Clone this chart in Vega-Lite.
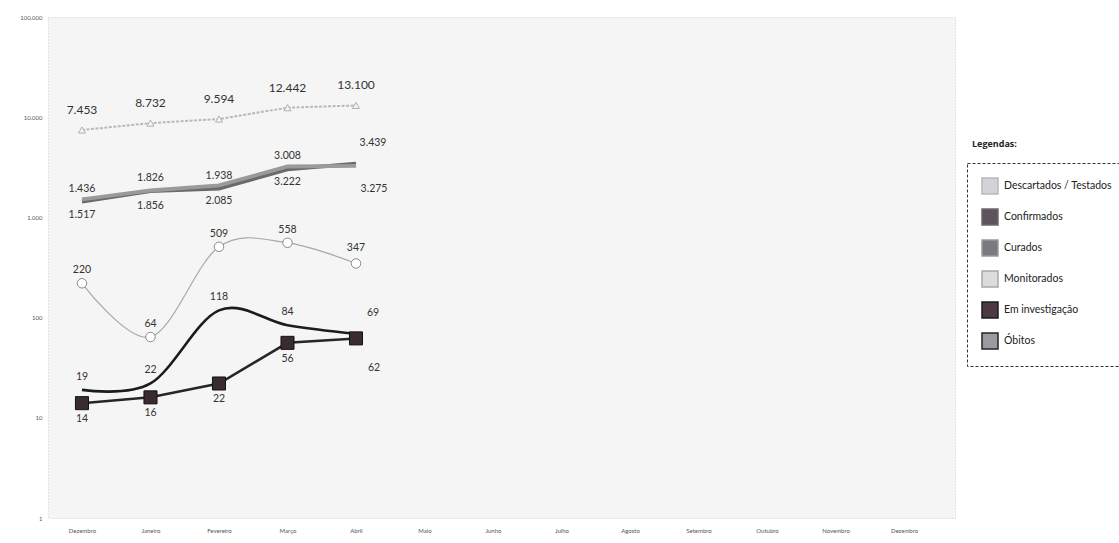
{
  "$schema": "https://vega.github.io/schema/vega-lite/v6.json",
  "background": "white",
  "autosize": "none",
  "width": 907,
  "height": 501,
  "padding": {"left": 48, "top": 17, "right": 164, "bottom": 25},
  "title": {
    "text": "Legendas:",
    "anchor": "start",
    "frame": "group",
    "orient": "top",
    "font": "Open Sans",
    "fontSize": 9,
    "fontWeight": "bold",
    "color": "#222",
    "dx": 924,
    "dy": 139
  },
  "data": {
    "values": [
      {"mes": "Dezembro", "serie": "Descartados / Testados", "valor": 7453},
      {"mes": "Janeiro", "serie": "Descartados / Testados", "valor": 8732},
      {"mes": "Fevereiro", "serie": "Descartados / Testados", "valor": 9594},
      {"mes": "Março", "serie": "Descartados / Testados", "valor": 12442},
      {"mes": "Abril", "serie": "Descartados / Testados", "valor": 13100},
      {"mes": "Dezembro", "serie": "Confirmados", "valor": 1436},
      {"mes": "Janeiro", "serie": "Confirmados", "valor": 1826},
      {"mes": "Fevereiro", "serie": "Confirmados", "valor": 1938},
      {"mes": "Março", "serie": "Confirmados", "valor": 3008},
      {"mes": "Abril", "serie": "Confirmados", "valor": 3439},
      {"mes": "Dezembro", "serie": "Curados", "valor": 1517},
      {"mes": "Janeiro", "serie": "Curados", "valor": 1856},
      {"mes": "Fevereiro", "serie": "Curados", "valor": 2085},
      {"mes": "Março", "serie": "Curados", "valor": 3222},
      {"mes": "Abril", "serie": "Curados", "valor": 3275},
      {"mes": "Dezembro", "serie": "Monitorados", "valor": 220},
      {"mes": "Janeiro", "serie": "Monitorados", "valor": 64},
      {"mes": "Fevereiro", "serie": "Monitorados", "valor": 509},
      {"mes": "Março", "serie": "Monitorados", "valor": 558},
      {"mes": "Abril", "serie": "Monitorados", "valor": 347},
      {"mes": "Dezembro", "serie": "Em investigação", "valor": 19},
      {"mes": "Janeiro", "serie": "Em investigação", "valor": 22},
      {"mes": "Fevereiro", "serie": "Em investigação", "valor": 118},
      {"mes": "Março", "serie": "Em investigação", "valor": 84},
      {"mes": "Abril", "serie": "Em investigação", "valor": 69},
      {"mes": "Dezembro", "serie": "Óbitos", "valor": 14},
      {"mes": "Janeiro", "serie": "Óbitos", "valor": 16},
      {"mes": "Fevereiro", "serie": "Óbitos", "valor": 22},
      {"mes": "Março", "serie": "Óbitos", "valor": 56},
      {"mes": "Abril", "serie": "Óbitos", "valor": 62}
    ]
  },
  "encoding": {
    "x": {
      "field": "mes",
      "type": "nominal",
      "scale": {
        "type": "point",
        "padding": 0.62,
        "align": 0.4,
        "domain": ["Dezembro", "Janeiro", "Fevereiro", "Março", "Abril", "Maio", "Junho", "Julho", "Agosto", "Setembro", "Outubro", "Novembro", "Dezembro "]
      },
      "axis": {
        "title": null,
        "labelAngle": 0,
        "labelExpr": "trim(datum.value)",
        "labelFontSize": 6,
        "labelColor": "#555",
        "labelPadding": 9,
        "ticks": false,
        "domain": false,
        "grid": false
      }
    },
    "y": {
      "field": "valor",
      "type": "quantitative",
      "scale": {"type": "log", "domain": [1, 100000]},
      "axis": {
        "title": null,
        "values": [1, 10, 100, 1000, 10000, 100000],
        "format": ",d",
        "labelFontSize": 6,
        "labelColor": "#555",
        "labelPadding": 6,
        "ticks": false,
        "domain": false,
        "grid": false
      }
    },
    "color": {
      "field": "serie",
      "type": "nominal",
      "scale": {
        "domain": ["Descartados / Testados", "Confirmados", "Curados", "Monitorados", "Em investigação", "Óbitos"],
        "range": ["#b9b9b9", "#6a6a6a", "#9a9a9a", "#a8a8a8", "#1c1c1c", "#262626"]
      },
      "legend": {
        "title": null,
        "orient": "none",
        "legendX": 919,
        "legendY": 146,
        "padding": 14,
        "strokeColor": "#333",
        "symbolType": "square",
        "symbolSize": 256,
        "symbolStrokeWidth": 1.5,
        "rowPadding": 9,
        "labelFont": "Lato",
        "labelFontSize": 10.5,
        "labelColor": "#222",
        "labelOffset": 5,
        "encode": {
          "legend": {"update": {"strokeDash": {"value": [3, 2]}, "strokeWidth": {"value": 1}}},
          "symbols": {
            "update": {
              "shape": {"value": "square"},
              "stroke": {"value": "#111"},
              "strokeWidth": {"value": 1.5},
              "fill": {"signal": "{'Descartados / Testados': '#d2d2da', 'Confirmados': '#5e545c', 'Curados': '#7a7a80', 'Monitorados': '#dcdcdc', 'Em investigação': '#4e3844', 'Óbitos': '#9a9aa0'}[datum.value]"},
              "opacity": {"value": 1}
            }
          }
        }
      }
    }
  },
  "layer": [
    {
      "transform": [{"filter": "datum.serie === 'Descartados / Testados'"}],
      "mark": {"type": "line", "strokeWidth": 2, "strokeDash": [3, 1.5]}
    },
    {
      "transform": [{"filter": "datum.serie === 'Confirmados'"}],
      "mark": {"type": "line", "strokeWidth": 3.8}
    },
    {
      "transform": [{"filter": "datum.serie === 'Curados'"}],
      "mark": {"type": "line", "strokeWidth": 3.8}
    },
    {
      "transform": [{"filter": "datum.serie === 'Óbitos'"}],
      "mark": {"type": "line", "strokeWidth": 2.5}
    },
    {
      "transform": [{"filter": "datum.serie === 'Monitorados'"}],
      "mark": {"type": "line", "interpolate": "cardinal", "strokeWidth": 1.2}
    },
    {
      "transform": [{"filter": "datum.serie === 'Em investigação'"}],
      "mark": {"type": "line", "interpolate": "cardinal", "strokeWidth": 2.6}
    },
    {
      "transform": [{"filter": "datum.serie === 'Descartados / Testados'"}],
      "mark": {"type": "point", "shape": "triangle-up", "size": 50, "filled": true, "opacity": 1, "fill": "#f4f4f4", "stroke": "#b0b0b0", "strokeWidth": 1},
      "encoding": {"color": {"value": "#b0b0b0"}}
    },
    {
      "transform": [{"filter": "datum.serie === 'Monitorados'"}],
      "mark": {"type": "point", "shape": "circle", "size": 90, "filled": true, "opacity": 1, "fill": "white", "stroke": "#8a8a8a", "strokeWidth": 1},
      "encoding": {"color": {"value": "#8a8a8a"}}
    },
    {
      "transform": [{"filter": "datum.serie === 'Óbitos'"}],
      "mark": {"type": "point", "shape": "square", "size": 170, "filled": true, "opacity": 1, "fill": "#3a2a32", "stroke": "#111", "strokeWidth": 1},
      "encoding": {"color": {"value": "#3a2a32"}}
    },
    {
      "transform": [{"filter": "datum.serie === 'Descartados / Testados'"}],
      "mark": {"type": "text", "dy": -20, "font": "Lato", "fontSize": 12},
      "encoding": {"text": {"field": "valor", "type": "quantitative", "format": ",d"}, "color": {"value": "#333"}}
    },
    {
      "transform": [{"filter": "indexof(['Confirmados', 'Monitorados', 'Em investigação'], datum.serie) >= 0 && datum.mes !== 'Abril'"}],
      "mark": {"type": "text", "dy": -13, "font": "Lato", "fontSize": 10.5},
      "encoding": {"text": {"field": "valor", "type": "quantitative", "format": ",d"}, "color": {"value": "#333"}}
    },
    {
      "transform": [{"filter": "datum.serie === 'Monitorados' && datum.mes === 'Abril'"}],
      "mark": {"type": "text", "dy": -15, "font": "Lato", "fontSize": 10.5},
      "encoding": {"text": {"field": "valor", "type": "quantitative", "format": ",d"}, "color": {"value": "#333"}}
    },
    {
      "transform": [{"filter": "indexof(['Curados', 'Óbitos'], datum.serie) >= 0 && datum.mes !== 'Abril'"}],
      "mark": {"type": "text", "dy": 16, "font": "Lato", "fontSize": 10.5},
      "encoding": {"text": {"field": "valor", "type": "quantitative", "format": ",d"}, "color": {"value": "#333"}}
    },
    {
      "transform": [{"filter": "indexof(['Confirmados', 'Em investigação'], datum.serie) >= 0 && datum.mes === 'Abril'"}],
      "mark": {"type": "text", "dx": 17, "dy": -21, "font": "Lato", "fontSize": 10.5},
      "encoding": {"text": {"field": "valor", "type": "quantitative", "format": ",d"}, "color": {"value": "#333"}}
    },
    {
      "transform": [{"filter": "datum.serie === 'Curados' && datum.mes === 'Abril'"}],
      "mark": {"type": "text", "dx": 18, "dy": 23, "font": "Lato", "fontSize": 10.5},
      "encoding": {"text": {"field": "valor", "type": "quantitative", "format": ",d"}, "color": {"value": "#333"}}
    },
    {
      "transform": [{"filter": "datum.serie === 'Óbitos' && datum.mes === 'Abril'"}],
      "mark": {"type": "text", "dx": 18, "dy": 30, "font": "Lato", "fontSize": 10.5},
      "encoding": {"text": {"field": "valor", "type": "quantitative", "format": ",d"}, "color": {"value": "#333"}}
    }
  ],
  "config": {
    "locale": {
      "number": {"decimal": ",", "thousands": ".", "grouping": [3], "currency": ["R$", ""]}
    },
    "view": {"fill": "#f5f5f5", "stroke": "#cfcfcf", "strokeDash": [1, 2]},
    "axis": {"labelFont": "Lato"}
  }
}
